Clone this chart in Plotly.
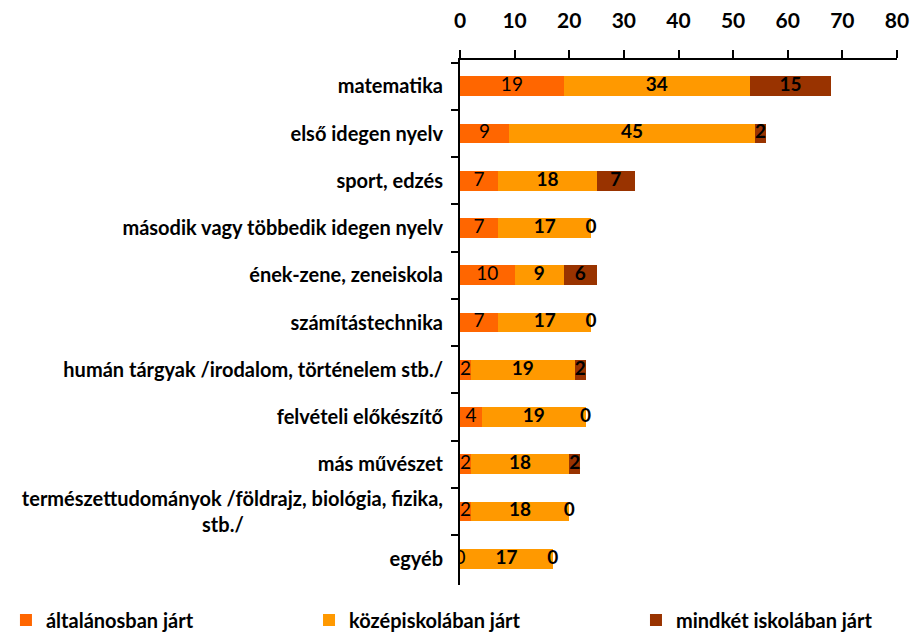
import plotly.graph_objects as go

categories = [
    "matematika",
    "első idegen nyelv",
    "sport, edzés",
    "második vagy többedik idegen nyelv",
    "ének-zene, zeneiskola",
    "számítástechnika",
    "humán tárgyak /irodalom, történelem stb./",
    "felvételi előkészítő",
    "más művészet",
    "természettudományok /földrajz, biológia, fizika,<br>stb./" + "\u00a0" * 41,
    "egyéb",
]
altalanos = [19, 9, 7, 7, 10, 7, 2, 4, 2, 2, 0]
kozep = [34, 45, 18, 17, 9, 17, 19, 19, 18, 18, 17]
mindket = [15, 2, 7, 0, 6, 0, 2, 0, 2, 0, 0]

series = [
    ("általánosban járt", altalanos, "#FF6600", "normal", "legend", -1.039),
    ("középiskolában járt", kozep, "#FF9900", "bold", "legend2", -0.3455),
    ("mindkét iskolában járt", mindket, "#993300", "bold", "legend3", 0.4027),
]

FONT = "Lato, 'Open Sans', sans-serif"

fig = go.Figure()
base = [0] * len(categories)
legends = {}
for name, vals, color, weight, leg, leg_x in series:
    fig.add_trace(
        go.Bar(
            y=categories,
            x=vals,
            orientation="h",
            name=name,
            legend=leg,
            marker={"color": color, "line": {"width": 0}},
        )
    )
    # labels centred on each segment (zero segments sit on the edge)
    fig.add_trace(
        go.Scatter(
            y=categories,
            x=[b + v / 2 for b, v in zip(base, vals)],
            mode="text",
            text=[str(v) for v in vals],
            textfont={"family": FONT, "size": 19, "color": "black", "weight": weight},
            showlegend=False,
            hoverinfo="skip",
        )
    )
    base = [b + v for b, v in zip(base, vals)]
    # one legend per entry so they can sit at the reference spacing
    legends[leg] = {
        "orientation": "h",
        "x": leg_x,
        "xanchor": "left",
        "y": -0.0667,
        "yanchor": "middle",
        "font": {"family": FONT, "size": 20, "weight": "bold"},
        "itemwidth": 30,
    }

fig.update_layout(
    width=912,
    height=633,
    margin={"l": 460, "r": 15, "t": 60, "b": 48, "autoexpand": False},
    paper_bgcolor="white",
    plot_bgcolor="white",
    barmode="stack",
    bargap=0.58,
    font={"family": FONT, "color": "black"},
    showlegend=True,
    **legends,
    xaxis={
        "side": "top",
        "range": [0, 80],
        "dtick": 10,
        "ticks": "outside",
        "ticklen": 8,
        "tickwidth": 2,
        "tickcolor": "black",
        "showline": True,
        "linecolor": "black",
        "linewidth": 2,
        "showgrid": False,
        "zeroline": False,
        "automargin": False,
        "tickfont": {"family": FONT, "size": 21, "weight": "bold"},
        "ticklabelstandoff": 14,
    },
    yaxis={
        "autorange": "reversed",
        "showline": True,
        "linecolor": "black",
        "linewidth": 2,
        "ticks": "outside",
        "tickson": "boundaries",
        "ticklen": 7,
        "tickwidth": 2,
        "tickcolor": "black",
        "showgrid": False,
        "automargin": False,
        "tickfont": {"family": FONT, "size": 20, "weight": "bold"},
        "ticklabelstandoff": 11,
    },
)

fig.write_html(
    "out.html",
    config={"displayModeBar": False},
    post_script="document.body.style.margin='0';",
)
